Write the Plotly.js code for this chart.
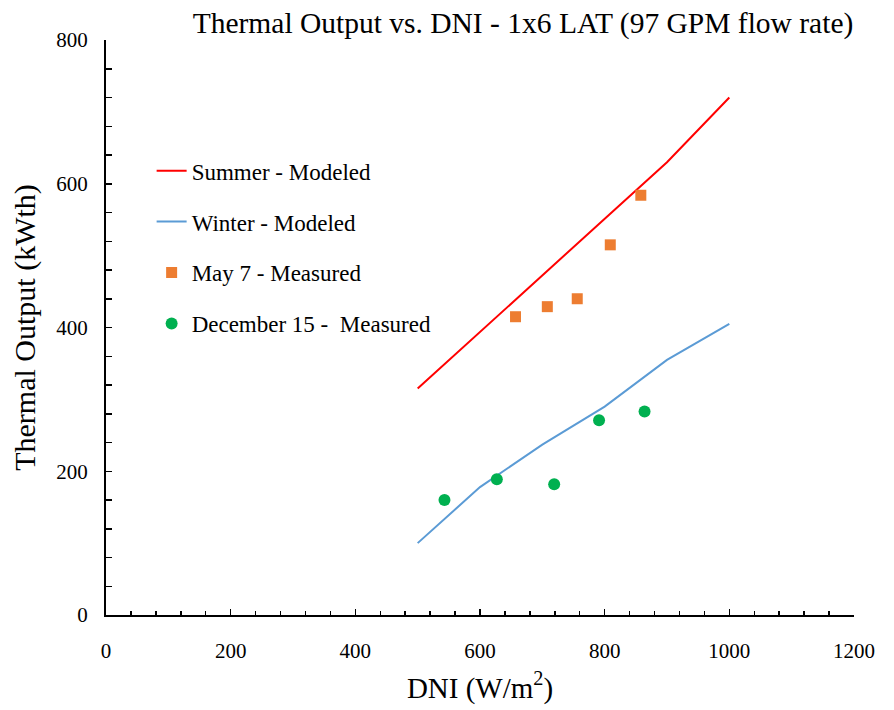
<!DOCTYPE html>
<html>
<head>
<meta charset="utf-8">
<script src="https://cdn.plot.ly/plotly-3.0.1.min.js"></script>
<style>html,body{margin:0;padding:0;background:#fff;}#chart{width:894px;height:710px;}</style>
</head>
<body>
<div id="chart"></div>
<script>
const modelDNI = [500, 600, 700, 800, 900, 1000];
const summerModeled = [315, 394, 473, 551, 630, 720];
const winterModeled = [100, 178, 237, 290, 355, 405];
const mayDNI = [657, 708, 756, 809, 858];
const mayMeasured = [415, 429, 440, 515, 584];
const decDNI = [543, 627, 719, 791, 864];
const decMeasured = [160, 189, 182, 271, 283];
const xTickVals = [0, 200, 400, 600, 800, 1000, 1200];
const yTickVals = [0, 200, 400, 600, 800];

const font = "'Liberation Serif', 'Times New Roman', serif";
const traces = [
  {x: modelDNI, y: summerModeled, name: "Summer - Modeled", mode: "lines", type: "scatter",
   line: {color: "#ff0000", width: 2}, legendgroup: "a"},
  {x: modelDNI, y: winterModeled, name: "Winter - Modeled", mode: "lines", type: "scatter",
   line: {color: "#5b9bd5", width: 2}, legendgroup: "b"},
  {x: mayDNI, y: mayMeasured, name: "May 7 - Measured", mode: "markers", type: "scatter",
   marker: {color: "#ed7d31", symbol: "square", size: 11}, legendgroup: "c"},
  {x: decDNI, y: decMeasured, name: "December 15 -  Measured", mode: "markers", type: "scatter",
   marker: {color: "#00b050", symbol: "circle", size: 12}, legendgroup: "d"}
];
const layout = {
  width: 894, height: 710,
  margin: {l: 106, r: 40, t: 40, b: 95},
  paper_bgcolor: "#fff", plot_bgcolor: "#fff",
  font: {family: font, color: "#000", size: 21},
  title: {text: "Thermal Output vs. DNI - 1x6 LAT (97 GPM flow rate)", font: {family: font, size: 29.5, color: "#000"},
          x: 0.585, xanchor: "center", y: 0.968, yanchor: "middle"},
  showlegend: true,
  legend: {x: 0.061, y: 0.81, xanchor: "left", yanchor: "top", bgcolor: "rgba(0,0,0,0)",
           font: {family: font, size: 23, color: "#000"}, tracegroupgap: 18, itemwidth: 30},
  xaxis: {range: [0, 1200], tickvals: xTickVals, ticktext: xTickVals.map(String),
          showgrid: false, zeroline: false, showline: true, linecolor: "#000", linewidth: 2,
          ticks: "inside", ticklen: 6, tickwidth: 1.5, tickcolor: "#000",
          minor: {dtick: 40, tick0: 0, ticks: "inside", ticklen: 4, tickwidth: 1.5, tickcolor: "#000", showgrid: false},
          tickfont: {family: font, size: 21}, ticklabelstandoff: 16,
          title: {text: "DNI (W/m<sup>2</sup>)", font: {family: font, size: 29}, standoff: 15}},
  yaxis: {range: [0, 800], tickvals: yTickVals, ticktext: yTickVals.map(String),
          showgrid: false, zeroline: false, showline: true, linecolor: "#000", linewidth: 2,
          ticks: "inside", ticklen: 6, tickwidth: 1.5, tickcolor: "#000",
          minor: {dtick: 40, tick0: 0, ticks: "inside", ticklen: 6, tickwidth: 1.5, tickcolor: "#000", showgrid: false},
          tickfont: {family: font, size: 21}, ticklabelstandoff: 12,
          title: {text: "Thermal Output (kWth)", font: {family: font, size: 30}, standoff: 12}}
};
Plotly.newPlot("chart", traces, layout, {displayModeBar: false, staticPlot: true});
</script>
</body>
</html>
